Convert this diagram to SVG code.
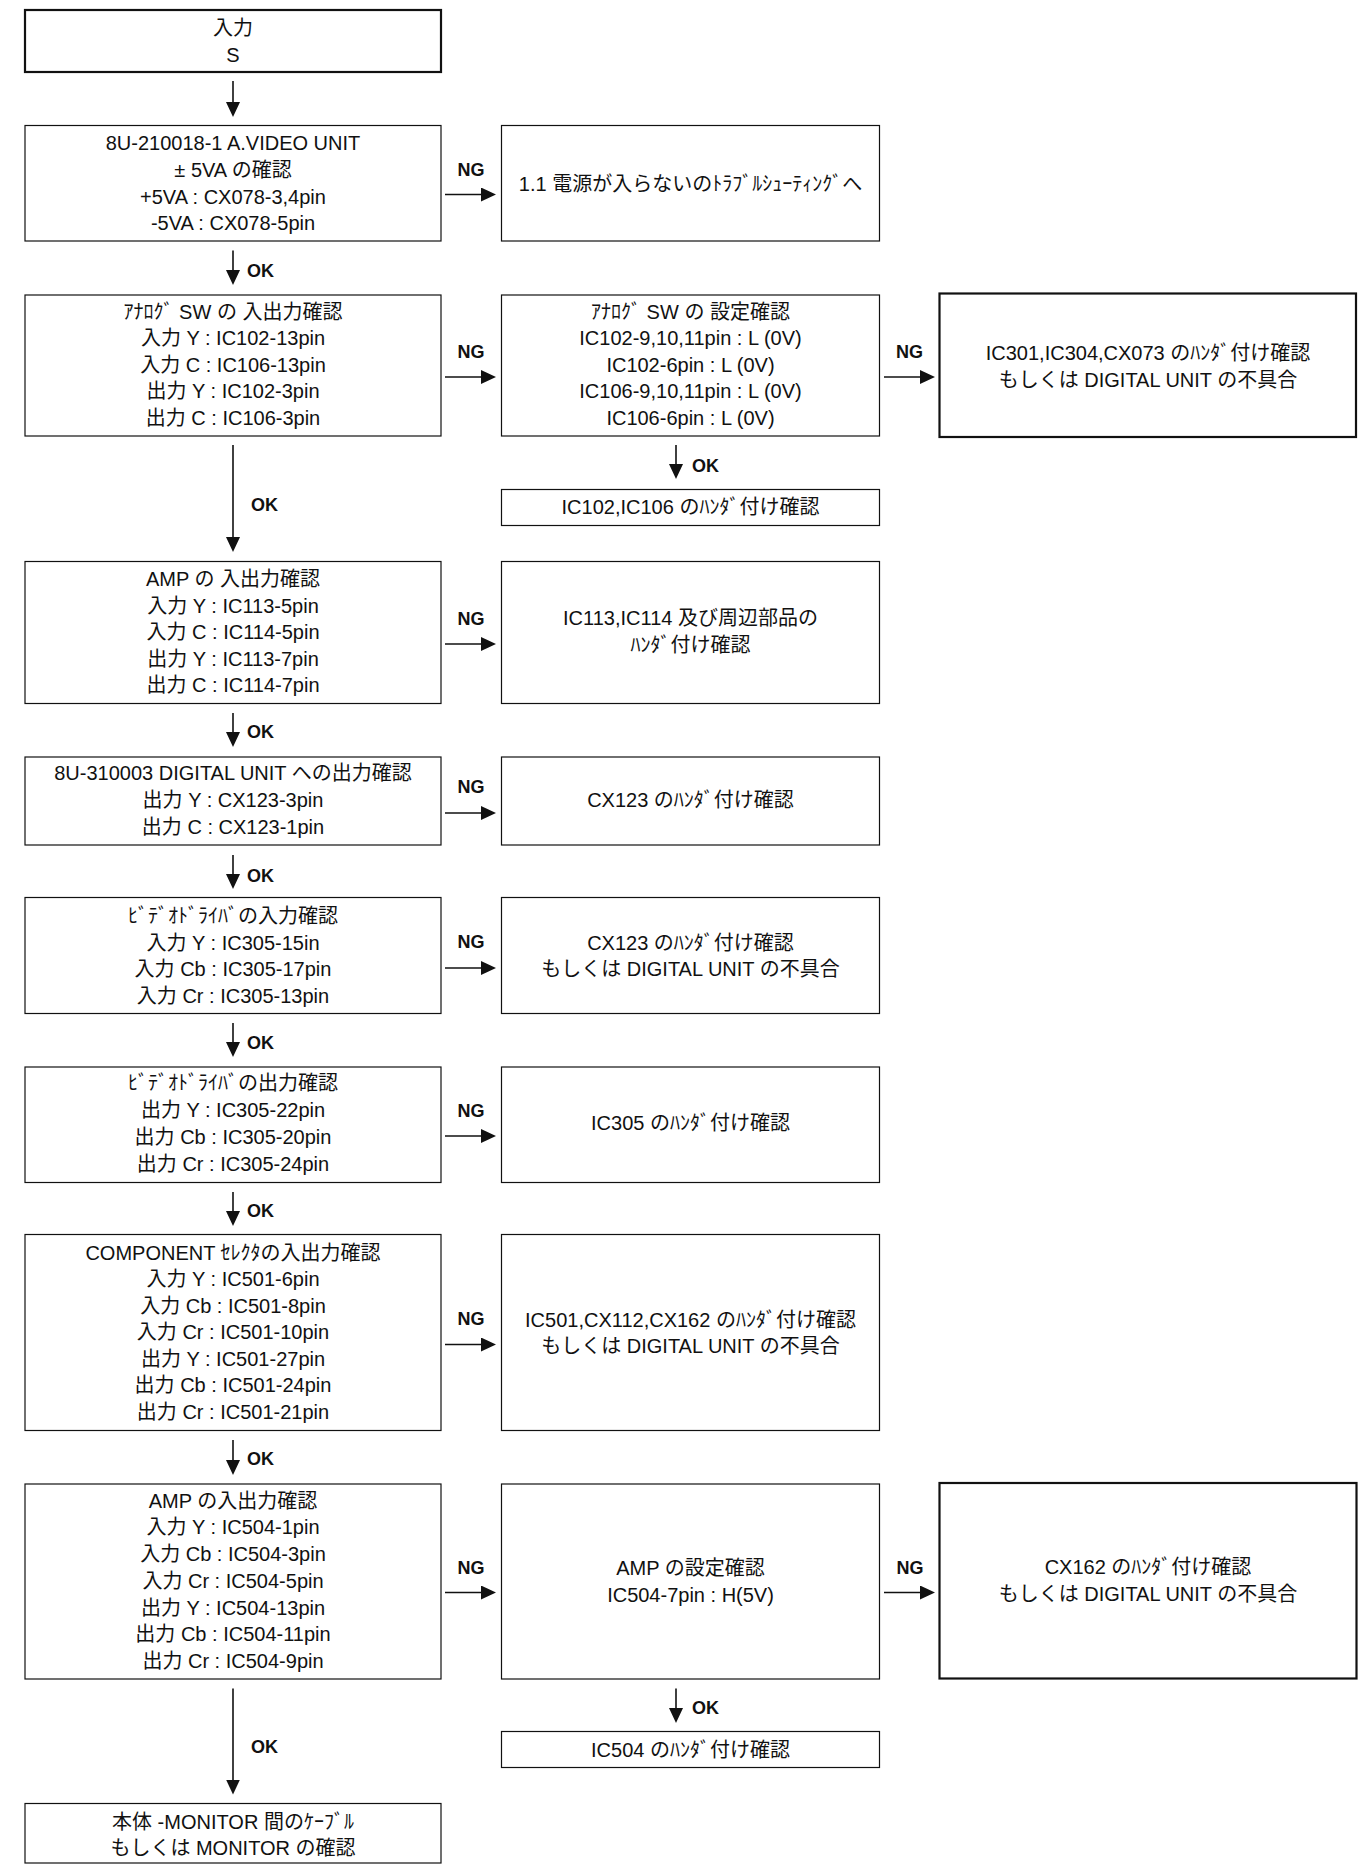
<svg xmlns="http://www.w3.org/2000/svg" width="1366" height="1865" viewBox="0 0 1366 1865">
<style>
.bg{fill:#fff}
.box{fill:#fff;stroke:#111;stroke-width:1.2}
.thick{fill:#fff;stroke:#111;stroke-width:2.2}
.t{font-family:"Liberation Sans","Noto Sans CJK JP",sans-serif;font-size:20px;text-anchor:middle;fill:#111}
.lb{font-family:"Liberation Sans","Noto Sans CJK JP",sans-serif;font-size:18px;font-weight:bold;fill:#111}
.c{fill:none;stroke:#111;stroke-width:1.6}
.m{text-anchor:middle}
</style>
<defs>
<marker id="ah" markerUnits="userSpaceOnUse" markerWidth="15" markerHeight="15" refX="8" refY="7" orient="auto">
<path d="M0,0 L15,7 L0,14 z" fill="#111"/>
</marker>
</defs>
<rect class="bg" x="0" y="0" width="1366" height="1865"/>

<g id="connectors">
<line class="c" x1="233" y1="81" x2="233" y2="110" marker-end="url(#ah)"/>
<line class="c" x1="445" y1="194.5" x2="489" y2="194.5" marker-end="url(#ah)"/>
<text class="lb m" x="471" y="175.5">NG</text>
<line class="c" x1="233" y1="250.5" x2="233" y2="278" marker-end="url(#ah)"/>
<text class="lb" x="247" y="276.5">OK</text>
<line class="c" x1="445" y1="377" x2="489" y2="377" marker-end="url(#ah)"/>
<text class="lb m" x="471" y="357.5">NG</text>
<line class="c" x1="884" y1="377" x2="928" y2="377" marker-end="url(#ah)"/>
<text class="lb m" x="909.5" y="357.5">NG</text>
<line class="c" x1="676" y1="445" x2="676" y2="472" marker-end="url(#ah)"/>
<text class="lb" x="692" y="471.5">OK</text>
<line class="c" x1="233" y1="445" x2="233" y2="545" marker-end="url(#ah)"/>
<text class="lb" x="251" y="510.5">OK</text>
<line class="c" x1="445" y1="644" x2="489" y2="644" marker-end="url(#ah)"/>
<text class="lb m" x="471" y="625">NG</text>
<line class="c" x1="233" y1="713" x2="233" y2="740" marker-end="url(#ah)"/>
<text class="lb" x="247" y="738">OK</text>
<line class="c" x1="445" y1="813" x2="489" y2="813" marker-end="url(#ah)"/>
<text class="lb m" x="471" y="793">NG</text>
<line class="c" x1="233" y1="855" x2="233" y2="882" marker-end="url(#ah)"/>
<text class="lb" x="247" y="881.5">OK</text>
<line class="c" x1="445" y1="968" x2="489" y2="968" marker-end="url(#ah)"/>
<text class="lb m" x="471" y="948">NG</text>
<line class="c" x1="233" y1="1023" x2="233" y2="1050" marker-end="url(#ah)"/>
<text class="lb" x="247" y="1049">OK</text>
<line class="c" x1="445" y1="1136" x2="489" y2="1136" marker-end="url(#ah)"/>
<text class="lb m" x="471" y="1116.5">NG</text>
<line class="c" x1="233" y1="1192" x2="233" y2="1219" marker-end="url(#ah)"/>
<text class="lb" x="247" y="1217">OK</text>
<line class="c" x1="445" y1="1344.5" x2="489" y2="1344.5" marker-end="url(#ah)"/>
<text class="lb m" x="471" y="1325">NG</text>
<line class="c" x1="233" y1="1440" x2="233" y2="1468" marker-end="url(#ah)"/>
<text class="lb" x="247" y="1465">OK</text>
<line class="c" x1="445" y1="1592.5" x2="489" y2="1592.5" marker-end="url(#ah)"/>
<text class="lb m" x="471" y="1574">NG</text>
<line class="c" x1="884" y1="1592.5" x2="928" y2="1592.5" marker-end="url(#ah)"/>
<text class="lb m" x="910" y="1573.5">NG</text>
<line class="c" x1="676" y1="1688.5" x2="676" y2="1716" marker-end="url(#ah)"/>
<text class="lb" x="692" y="1713.5">OK</text>
<line class="c" x1="233" y1="1688.5" x2="233" y2="1787.5" marker-end="url(#ah)"/>
<text class="lb" x="251" y="1753">OK</text>
</g>

<g id="n-input">
<rect class="thick" x="25" y="10" width="416" height="62"/>
<text class="t" x="233" y="35">入力</text>
<text class="t" x="233" y="62">S</text>
</g>

<g id="n-5va">
<rect class="box" x="25" y="125.5" width="416" height="115.5"/>
<text class="t" x="233" y="150">8U-210018-1 A.VIDEO UNIT</text>
<text class="t" x="233" y="176.5">± 5VA の確認</text>
<text class="t" x="233" y="203.5">+5VA : CX078-3,4pin</text>
<text class="t" x="233" y="230">-5VA : CX078-5pin</text>
</g>

<g id="n-power">
<rect class="box" x="501.5" y="125.5" width="378" height="115.5"/>
<text class="t" x="690.5" y="191">1.1 電源が入らないのﾄﾗﾌﾞﾙｼｭｰﾃｨﾝｸﾞへ</text>
</g>

<g id="n-analog-io">
<rect class="box" x="25" y="295" width="416" height="141"/>
<text class="t" x="233" y="318.5">ｱﾅﾛｸﾞ SW の 入出力確認</text>
<text class="t" x="233" y="345">入力 Y : IC102-13pin</text>
<text class="t" x="233" y="371.5">入力 C : IC106-13pin</text>
<text class="t" x="233" y="398">出力 Y : IC102-3pin</text>
<text class="t" x="233" y="424.5">出力 C : IC106-3pin</text>
</g>

<g id="n-analog-set">
<rect class="box" x="501.5" y="295" width="378" height="141"/>
<text class="t" x="690.5" y="318.5">ｱﾅﾛｸﾞ SW の 設定確認</text>
<text class="t" x="690.5" y="345">IC102-9,10,11pin : L (0V)</text>
<text class="t" x="690.5" y="371.5">IC102-6pin : L (0V)</text>
<text class="t" x="690.5" y="398">IC106-9,10,11pin : L (0V)</text>
<text class="t" x="690.5" y="424.5">IC106-6pin : L (0V)</text>
</g>

<g id="n-ic301">
<rect class="thick" x="939.5" y="293.5" width="416.5" height="143.5"/>
<text class="t" x="1148" y="360">IC301,IC304,CX073 のﾊﾝﾀﾞ付け確認</text>
<text class="t" x="1148" y="387">もしくは DIGITAL UNIT の不具合</text>
</g>

<g id="n-ic102">
<rect class="box" x="501.5" y="489.5" width="378" height="36"/>
<text class="t" x="690.5" y="514">IC102,IC106 のﾊﾝﾀﾞ付け確認</text>
</g>

<g id="n-amp1">
<rect class="box" x="25" y="561.5" width="416" height="142"/>
<text class="t" x="233" y="586">AMP の 入出力確認</text>
<text class="t" x="233" y="612.5">入力 Y : IC113-5pin</text>
<text class="t" x="233" y="639">入力 C : IC114-5pin</text>
<text class="t" x="233" y="665.5">出力 Y : IC113-7pin</text>
<text class="t" x="233" y="692">出力 C : IC114-7pin</text>
</g>

<g id="n-ic113">
<rect class="box" x="501.5" y="561.5" width="378" height="142"/>
<text class="t" x="690.5" y="625">IC113,IC114 及び周辺部品の</text>
<text class="t" x="690.5" y="652">ﾊﾝﾀﾞ付け確認</text>
</g>

<g id="n-digital-out">
<rect class="box" x="25" y="757" width="416" height="88"/>
<text class="t" x="233" y="780">8U-310003 DIGITAL UNIT への出力確認</text>
<text class="t" x="233" y="807">出力 Y : CX123-3pin</text>
<text class="t" x="233" y="834">出力 C : CX123-1pin</text>
</g>

<g id="n-cx123">
<rect class="box" x="501.5" y="757" width="378" height="88"/>
<text class="t" x="690.5" y="807">CX123 のﾊﾝﾀﾞ付け確認</text>
</g>

<g id="n-vd-in">
<rect class="box" x="25" y="897.5" width="416" height="116"/>
<text class="t" x="233" y="923">ﾋﾞﾃﾞｵﾄﾞﾗｲﾊﾞの入力確認</text>
<text class="t" x="233" y="949.5">入力 Y : IC305-15in</text>
<text class="t" x="233" y="976">入力 Cb : IC305-17pin</text>
<text class="t" x="233" y="1002.5">入力 Cr : IC305-13pin</text>
</g>

<g id="n-cx123b">
<rect class="box" x="501.5" y="897.5" width="378" height="116"/>
<text class="t" x="690.5" y="949.5">CX123 のﾊﾝﾀﾞ付け確認</text>
<text class="t" x="690.5" y="976">もしくは DIGITAL UNIT の不具合</text>
</g>

<g id="n-vd-out">
<rect class="box" x="25" y="1067" width="416" height="115.5"/>
<text class="t" x="233" y="1090">ﾋﾞﾃﾞｵﾄﾞﾗｲﾊﾞの出力確認</text>
<text class="t" x="233" y="1117">出力 Y : IC305-22pin</text>
<text class="t" x="233" y="1144">出力 Cb : IC305-20pin</text>
<text class="t" x="233" y="1171">出力 Cr : IC305-24pin</text>
</g>

<g id="n-ic305">
<rect class="box" x="501.5" y="1067" width="378" height="115.5"/>
<text class="t" x="690.5" y="1130">IC305 のﾊﾝﾀﾞ付け確認</text>
</g>

<g id="n-component">
<rect class="box" x="25" y="1234.5" width="416" height="196"/>
<text class="t" x="233" y="1259.5">COMPONENT ｾﾚｸﾀの入出力確認</text>
<text class="t" x="233" y="1286">入力 Y : IC501-6pin</text>
<text class="t" x="233" y="1312.5">入力 Cb : IC501-8pin</text>
<text class="t" x="233" y="1339">入力 Cr : IC501-10pin</text>
<text class="t" x="233" y="1365.5">出力 Y : IC501-27pin</text>
<text class="t" x="233" y="1392">出力 Cb : IC501-24pin</text>
<text class="t" x="233" y="1418.5">出力 Cr : IC501-21pin</text>
</g>

<g id="n-ic501">
<rect class="box" x="501.5" y="1234.5" width="378" height="196"/>
<text class="t" x="690.5" y="1326.5">IC501,CX112,CX162 のﾊﾝﾀﾞ付け確認</text>
<text class="t" x="690.5" y="1353">もしくは DIGITAL UNIT の不具合</text>
</g>

<g id="n-amp2">
<rect class="box" x="25" y="1484" width="416" height="195"/>
<text class="t" x="233" y="1507.5">AMP の入出力確認</text>
<text class="t" x="233" y="1534">入力 Y : IC504-1pin</text>
<text class="t" x="233" y="1561">入力 Cb : IC504-3pin</text>
<text class="t" x="233" y="1587.5">入力 Cr : IC504-5pin</text>
<text class="t" x="233" y="1614.5">出力 Y : IC504-13pin</text>
<text class="t" x="233" y="1641">出力 Cb : IC504-11pin</text>
<text class="t" x="233" y="1667.5">出力 Cr : IC504-9pin</text>
</g>

<g id="n-amp-set">
<rect class="box" x="501.5" y="1484" width="378" height="195"/>
<text class="t" x="690.5" y="1575">AMP の設定確認</text>
<text class="t" x="690.5" y="1602">IC504-7pin : H(5V)</text>
</g>

<g id="n-cx162">
<rect class="thick" x="939.5" y="1483" width="417" height="195.5"/>
<text class="t" x="1148" y="1573.5">CX162 のﾊﾝﾀﾞ付け確認</text>
<text class="t" x="1148" y="1601">もしくは DIGITAL UNIT の不具合</text>
</g>

<g id="n-ic504">
<rect class="box" x="501.5" y="1731.5" width="378" height="36"/>
<text class="t" x="690.5" y="1756.5">IC504 のﾊﾝﾀﾞ付け確認</text>
</g>

<g id="n-monitor">
<rect class="box" x="25" y="1803.5" width="416" height="59.5"/>
<text class="t" x="233" y="1828.5">本体 -MONITOR 間のｹｰﾌﾞﾙ</text>
<text class="t" x="233" y="1855">もしくは MONITOR の確認</text>
</g>
</svg>
